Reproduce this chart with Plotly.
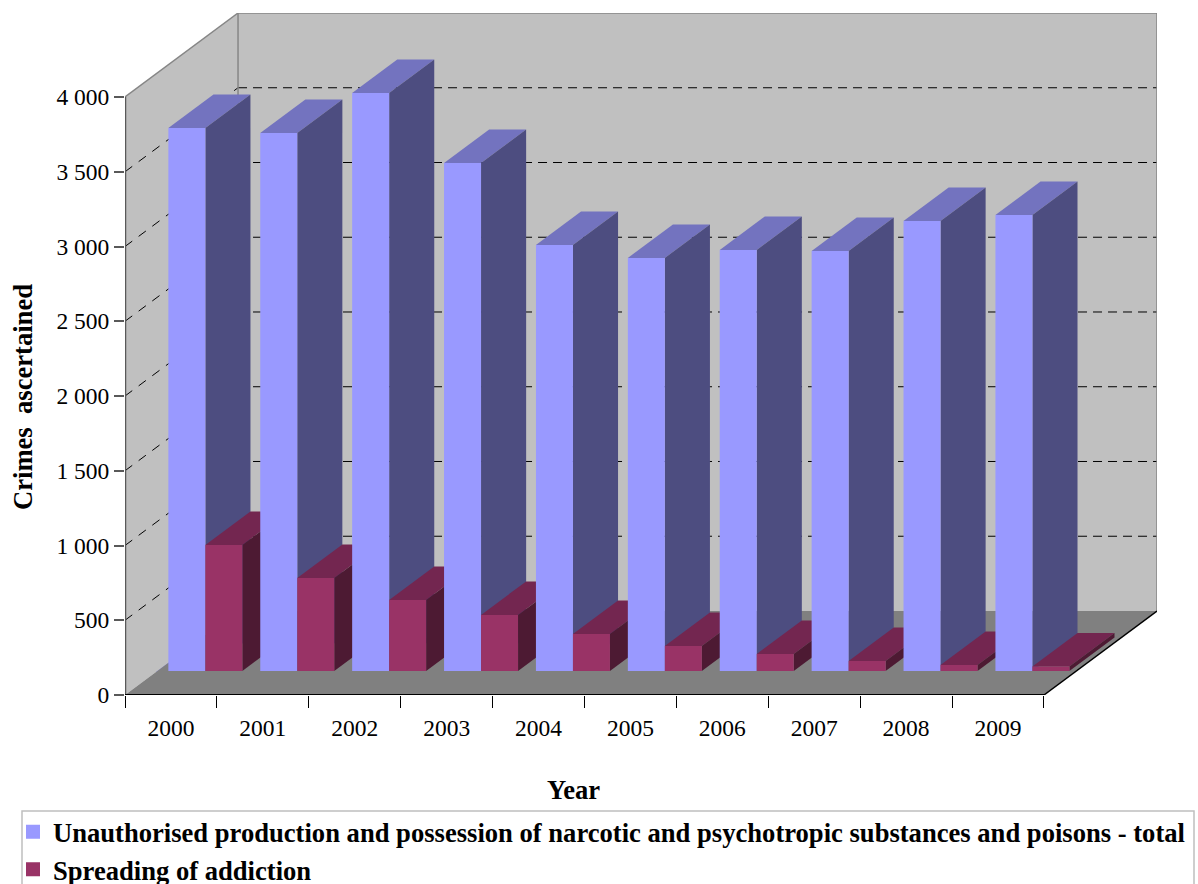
import plotly.graph_objects as go

years = ["2000", "2001", "2002", "2003", "2004", "2005", "2006", "2007", "2008", "2009"]
unauthorised = [3632, 3599, 3866, 3398, 2849, 2763, 2816, 2809, 3010, 3050]
spreading = [843, 622, 475, 375, 247, 167, 114, 67, 40, 30]
y_ticks = [0, 500, 1000, 1500, 2000, 2500, 3000, 3500, 4000]
y_labels = ["0", "500", "1 000", "1 500", "2 000", "2 500", "3 000", "3 500", "4 000"]
name_a = "Unauthorised production and possession of narcotic and psychotropic substances and poisons - total"
name_b = "Spreading of addiction"

FONT = "Liberation Serif"
# oblique projection of the depth axis, in axis units
DX, DY = 1.23, 562.0
Z0, Z1 = 0.286, 0.685
BAR_W, BAR_START = 0.4026, 0.12
N = len(years)
VMAX = y_ticks[-1]


def proj(x, v, z):
    return x + z * DX, v + z * DY


def poly(points, fill):
    xs, ys = zip(*[proj(*p) for p in points + points[:1]])
    return go.Scatter(x=xs, y=ys, mode="lines", fill="toself", fillcolor=fill,
                      line=dict(color=fill, width=0),
                      hoverinfo="skip", showlegend=False, cliponaxis=False)


def seg(a, b, color, width=1, dash="solid"):
    xs, ys = zip(proj(*a), proj(*b))
    return go.Scatter(x=xs, y=ys, mode="lines", line=dict(color=color, width=width, dash=dash),
                      hoverinfo="skip", showlegend=False, cliponaxis=False)


fig = go.Figure()

# legend carriers: the front faces, through the bar scale
centers = [i + BAR_START + BAR_W / 2 for i in range(N)]
base = Z0 * DY
fig.add_trace(go.Bar(x=centers, y=unauthorised, base=base, width=BAR_W, name=name_a,
                     legendgroup="a", marker=dict(color="#9999FF", line=dict(color="#9999FF", width=2))))
fig.add_trace(go.Bar(x=[c + BAR_W for c in centers], y=spreading, base=base, width=BAR_W, name=name_b,
                     legendgroup="b", marker=dict(color="#993366", line=dict(color="#993366", width=2))))

# walls and floor
GREY = "#868686"
fig.add_trace(poly([(0, 0, 0), (0, VMAX, 0), (0, VMAX, 1), (0, 0, 1)], "#C0C0C0"))
fig.add_trace(poly([(0, 0, 1), (N, 0, 1), (N, VMAX, 1), (0, VMAX, 1)], "#C0C0C0"))
fig.add_trace(poly([(0, 0, 0), (N, 0, 0), (N, 0, 1), (0, 0, 1)], "#808080"))
for v in y_ticks[1:-1]:
    fig.add_trace(seg((0, v, 0), (0, v, 1), "#000000", 1, "9px,8px"))
    fig.add_trace(seg((0, v, 1), (N, v, 1), "#000000", 1, "9px,6px"))
fig.add_trace(seg((0, VMAX, 0), (0, VMAX, 1), GREY, 1.5))
fig.add_trace(seg((0, VMAX, 1), (N, VMAX, 1), GREY, 1.5))
fig.add_trace(seg((0, 0, 1), (0, VMAX, 1), GREY, 1.5))
fig.add_trace(seg((N, 0, 1), (N, VMAX, 1), GREY, 1.5))


def box(x0, value, front, top, side):
    x1 = x0 + BAR_W
    fig.add_trace(poly([(x0, value, Z0), (x1, value, Z0), (x1, value, Z1), (x0, value, Z1)], top))
    fig.add_trace(poly([(x1, 0, Z0), (x1, value, Z0), (x1, value, Z1), (x1, 0, Z1)], side))
    fig.add_trace(poly([(x0, 0, Z0), (x1, 0, Z0), (x1, value, Z0), (x0, value, Z0)], front))


for i in range(N):
    start = i + BAR_START
    box(start, unauthorised[i], "#9999FF", "#7373BF", "#4D4D80")
    box(start + BAR_W, spreading[i], "#993366", "#732650", "#4D1A33")

# axis lines, drawn last so that they sit on top of the walls and the floor
fig.add_trace(seg((0, 0, 0), (0, VMAX, 0), "#595959", 2.5))
fig.add_trace(seg((0, 0, 0), (N, 0, 0), "#000000", 2))
fig.add_trace(seg((N, 0, 0), (N, 0, 1), "#000000", 1.5))

PW, PH = 1032, 682
fig.update_layout(
    width=1198, height=884,
    margin=dict(l=125, r=41, t=13, b=189, autoexpand=False),
    paper_bgcolor="#FFFFFF", plot_bgcolor="rgba(0,0,0,0)",
    barmode="overlay",
    font=dict(family=FONT, size=23.5, color="#000000"),
    xaxis=dict(range=[0, N + DX], showgrid=False, zeroline=False, showline=False, automargin=False,
               tickmode="array", tickvals=[i + 0.5 for i in range(N)], ticktext=years,
               ticks="", ticklabelstandoff=16, tickangle=0, layer="below traces",
               minor=dict(tickmode="array", tickvals=list(range(N + 1)), ticks="outside",
                          ticklen=12, tickwidth=1, tickcolor="#000000", showgrid=False)),
    yaxis=dict(range=[0, VMAX + DY], showgrid=False, zeroline=False, showline=False, automargin=False,
               tickmode="array", tickvals=y_ticks, ticktext=y_labels,
               ticks="outside", ticklen=10, tickwidth=1.5, tickcolor="#595959"),
    legend=dict(x=(13 - 125) / PW, y=(695 - 808) / PH, xanchor="left", yanchor="top",
                borderwidth=0, bgcolor="rgba(0,0,0,0)",
                font=dict(family=FONT, size=26.6, weight="bold", color="#000000"),
                tracegroupgap=14, traceorder="normal"),
    shapes=[
        dict(type="rect", xref="paper", yref="paper", layer="below",
             x0=(22 - 125) / PW, x1=(1194 - 125) / PW,
             y0=(695 - 811) / PH, y1=(695 - 900) / PH,
             line=dict(color="#BFBFBF", width=1.5), fillcolor="#FFFFFF"),
    ],
    annotations=[
        dict(text="<b>Year</b>", x=(573 - 125) / PW, y=(695 - 790) / PH, xref="paper", yref="paper",
             showarrow=False, font=dict(family=FONT, size=26.6), xanchor="center", yanchor="middle"),
        dict(text="<b>Crimes  ascertained</b>", x=(23 - 125) / PW, y=(695 - 397) / PH, xref="paper", yref="paper",
             showarrow=False, textangle=-90, font=dict(family=FONT, size=26.6), xanchor="center", yanchor="middle"),
    ],
)

fig.write_html("out.html", config={"displayModeBar": False},
               post_script="document.body.style.margin='0';document.body.style.overflow='hidden';")
